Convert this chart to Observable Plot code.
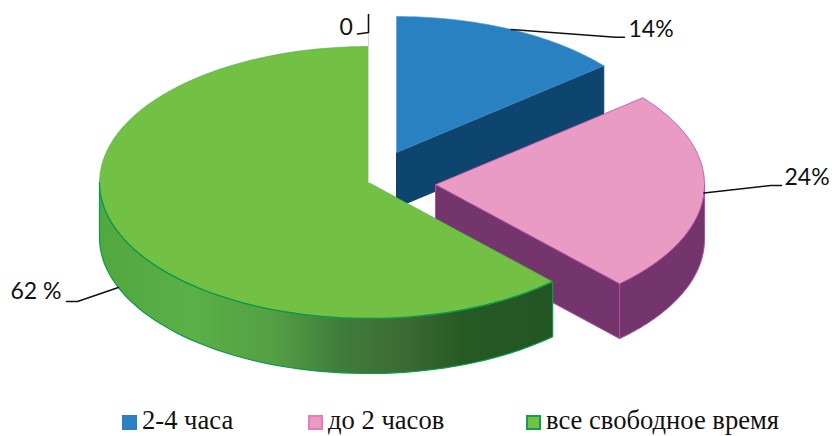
<!DOCTYPE html>
<html>
<head>
<meta charset="utf-8">
<script src="https://cdn.jsdelivr.net/npm/d3@7"></script>
<script src="https://cdn.jsdelivr.net/npm/@observablehq/plot@0.6"></script>
<style>
  html, body { margin: 0; padding: 0; background: #fff; overflow: hidden; }
  #chart svg { display: block; }
  #legend { position: relative; height: 36px; font-family: "Liberation Serif", serif; font-size: 26.6px; color: #111; white-space: nowrap; }
  #legend .item { position: absolute; top: 0; line-height: 24px; }
  #legend .swatch { position: absolute; top: 15px; left: 0; width: 15px; height: 15px; box-sizing: border-box; border-width: 2px; border-style: solid; }
  #legend .name { position: absolute; top: 8px; left: 20px; }
</style>
</head>
<body>
<div id="chart"></div>
<div id="legend"></div>
<script>
// Time-budget shares shown as an exploded pseudo-3D pie
const categories = ["2-4 часа", "до 2 часов", "все свободное время"];
const shares = [14, 24, 62];
const valueLabels = ["14%", "24%", "62 %"];
const zeroLabel = "0";

const topColors = ["#2a81c2", "#ea9bc4", "#72c044"];
const edgeColors = ["#4f9bd0", "#b24fa4", "#0a9a4a"];
const wallColors = ["#0d456f", "#74356c", "url(#wallGradient)"];
const legendEdges = ["#2a81c2", "#e47fb4", "#12a04c"];

// Layout of the drawing: ellipse radii, wall depth and each slice's exploded centre
const W = 832, H = 400;
const rx = 269, ry = 136, depth = 55;
const centers = [{x: 396, y: 152}, {x: 435, y: 184}, {x: 368, y: 182}];
const labelAt = [{x: 628, y: 29}, {x: 784, y: 177}, {x: 10, y: 291}];
const elbows = [
  [{x: 615, y: 36.7}, {x: 624, y: 36.7}],
  [{x: 770, y: 185}, {x: 781, y: 185}],
  [{x: 77, y: 301}, {x: 66, y: 301}]
];
const legendLeft = [122, 308, 526];

// Slice angles, clockwise from twelve o'clock, accumulated from the shares
const cumulative = d3.cumsum(shares);
const startAngle = i => (i === 0 ? 0 : cumulative[i - 1]) * 3.6;
const endAngle = i => cumulative[i] * 3.6;

const onRim = (c, deg, dy = 0) => {
  const t = deg * Math.PI / 180;
  return {x: c.x + rx * Math.sin(t), y: c.y - ry * Math.cos(t) + dy};
};
const rim = (c, a0, a1, dy = 0) =>
  d3.range(0, 61).map(k => onRim(c, a0 + (a1 - a0) * k / 60, dy));
const closed = pts => [...pts, pts[0]];

const faceTop = i => {
  const c = centers[i];
  return closed([c, ...rim(c, startAngle(i), endAngle(i))]);
};
// Radial wall under the clockwise edge of a slice
const wallRadial = i => {
  const c = centers[i], p = onRim(c, endAngle(i));
  return closed([c, p, {x: p.x, y: p.y + depth}, {x: c.x, y: c.y + depth}]);
};
// Outer curved wall between two rim angles
const wallOuter = (i, a0, a1) => {
  const c = centers[i];
  return closed([...rim(c, a0, a1), ...rim(c, a1, a0, depth)]);
};

const shape = (pts, fill, stroke, strokeWidth = 1) =>
  Plot.line(pts, {x: "x", y: "y", fill, stroke, strokeWidth, strokeLinejoin: "round"});
const leader = pts => Plot.line(pts, {x: "x", y: "y", stroke: "#111", strokeWidth: 1.6});

const defs = () => {
  const d = d3.create("svg:defs");
  const g = d.append("linearGradient").attr("id", "wallGradient").attr("x1", 1).attr("x2", 0).attr("y1", 0).attr("y2", 0);
  [[0, "#235522"], [0.2, "#265a25"], [0.335, "#3e6b35"], [0.47, "#3f7d3b"], [0.62, "#55a045"], [0.8, "#5ab046"], [1, "#52a83f"]]
    .forEach(([o, col]) => g.append("stop").attr("offset", o).attr("stop-color", col));
  return d.node();
};

const midAngle = i => (startAngle(i) + endAngle(i)) / 2;
const zeroTop = onRim({x: centers[2].x, y: centers[2].y - 14}, 0);

const chart = Plot.plot({
  width: W,
  height: H,
  margin: 0,
  x: {domain: [0, W], range: [0, W], axis: null},
  y: {domain: [H, 0], range: [H, 0], axis: null},
  marks: [
    defs,
    // Blue slice sits behind the others
    shape(wallRadial(0), wallColors[0], "#0d456f"),
    shape(faceTop(0), topColors[0], edgeColors[0], 0.6),
    // Pink slice
    shape(wallRadial(1), wallColors[1], edgeColors[1]),
    shape(wallOuter(1, 90, endAngle(1)), wallColors[1], edgeColors[1]),
    shape(faceTop(1), topColors[1], edgeColors[1], 0.8),
    // Green slice at the front, its near rim outlined more strongly
    shape(wallOuter(2, startAngle(2), 270), wallColors[2], edgeColors[2], 1.2),
    shape(faceTop(2), topColors[2], "#4fae48", 0.6),
    Plot.line(rim(centers[2], startAngle(2), 270), {x: "x", y: "y", stroke: edgeColors[2], strokeWidth: 1.3}),
    // Zero-share slice reduces to a single pale radius
    Plot.line([centers[2], zeroTop], {x: "x", y: "y", stroke: "#f0c8dc", strokeWidth: 1}),
    // Leaders and value labels
    leader([onRim(centers[0], midAngle(0)), ...elbows[0]]),
    leader([onRim(centers[1], midAngle(1)), ...elbows[1]]),
    leader([onRim(centers[2], midAngle(2), depth), ...elbows[2]]),
    leader([{x: 357, y: 33.5}, zeroTop, {x: 368, y: 14}]),
    Plot.text(valueLabels, {
      x: (_, i) => labelAt[i].x,
      y: (_, i) => labelAt[i].y,
      text: d => d,
      textAnchor: "start",
      fontFamily: "Lato",
      fontSize: 23,
      fill: "#111"
    }),
    Plot.text([zeroLabel], {
      x: [339], y: [27], text: d => d,
      textAnchor: "start", fontFamily: "Lato", fontSize: 23, fill: "#111"
    })
  ]
});
document.getElementById("chart").append(chart);

// Legend row below the plot
const legend = d3.select("#legend");
categories.forEach((name, i) => {
  const item = legend.append("div").attr("class", "item").style("left", legendLeft[i] + "px");
  item.append("span").attr("class", "swatch").style("background", topColors[i]).style("border-color", legendEdges[i]);
  item.append("span").attr("class", "name").text(name);
});
</script>
</body>
</html>
